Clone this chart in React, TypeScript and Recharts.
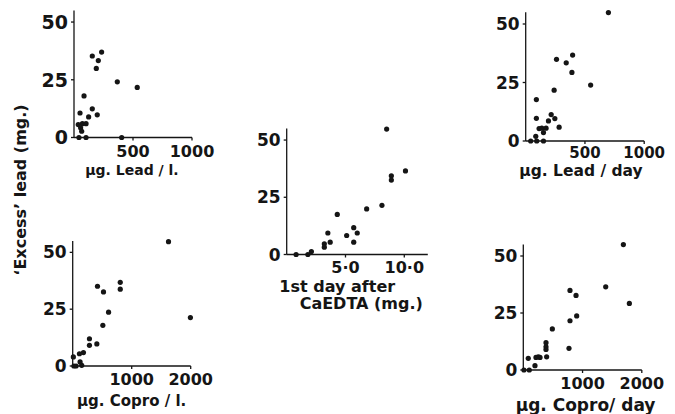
import { Scatter, ScatterChart, XAxis, YAxis } from "recharts";

const W = 675;
const H = 414;
const FONT = '"DejaVu Sans", sans-serif';
const INK = "#151515";

// shared y axis: 'Excess' lead (mg.)
const Y_DOMAIN = [0, 55];
const Y_TICKS = [0, 25, 50];

// µg. Lead / l.
const LEAD_L_X = [51, 85, 36, 71, 102, 56, 65, 155, 206, 234, 189, 367, 536, 155, 124, 197, 42, 102, 404];
const LEAD_L_Y = [10.6, 18, 5.6, 6, 6, 4.2, 2.7, 35.3, 33.3, 37, 29.9, 24.1, 21.7, 12.4, 8.9, 9.8, 0, 0, 0];

// 1st day after CaEDTA (mg.)
const EDTA_X = [0.8, 1.8, 2.1, 3.2, 3.2, 3.5, 3.7, 4.3, 5.1, 5.7, 5.7, 6.0, 6.8, 8.1, 8.5, 8.9, 8.9, 10.1];
const EDTA_Y = [0, 0, 1.3, 4.7, 3.2, 9.4, 5.4, 17.5, 8.3, 11.7, 5.4, 9.4, 19.9, 21.5, 54.8, 34.4, 32.5, 36.5];

// µg. Lead / day
const LEAD_D_X = [698, 260, 342, 396, 390, 548, 240, 90, 90, 215, 246, 192, 282, 113, 136, 172, 150, 85, 42, 93, 150];
const LEAD_D_Y = [54.9, 34.9, 33.4, 36.7, 29.3, 23.9, 21.7, 17.7, 9.7, 11.3, 9.6, 8.6, 5.9, 5.3, 5.5, 5.5, 3.6, 2, 0, 0, 0];

// µg. Copro / l.
const COPRO_L_X = [1624, 1995, 806, 806, 420, 522, 608, 511, 409, 284, 284, 182, 114, 125, 11, 20, 57, 153];
const COPRO_L_Y = [54.7, 21.3, 36.8, 33.8, 35.1, 32.6, 23.7, 17.9, 9.7, 12, 9.1, 5.9, 5.4, 1.8, 4, 0, 0, 0.3];

// µg. Copro / day
const COPRO_D_X = [1689, 1391, 1790, 788, 890, 901, 788, 771, 490, 383, 383, 383, 394, 282, 253, 214, 84, 197, 11, 101];
const COPRO_D_Y = [55, 36.5, 29.2, 34.9, 32.7, 23.7, 21.6, 9.5, 18, 12, 10.2, 9, 5.8, 5.5, 5.8, 5.5, 5.1, 1.9, 0, 0];

const LEAD_TICKS = [500, 1000];
const EDTA_TICKS = [5, 10];
const EDTA_TICK_LABELS = ["5·0", "10·0"];
const COPRO_TICKS = [1000, 2000];

const zip = (xs: number[], ys: number[]) => xs.map((x, i) => ({ x, y: ys[i] }));

type Box = { l: number; r: number; t: number; b: number };

interface PanelProps {
  data: { x: number; y: number }[];
  xDomain: number[];
  xTicks: number[];
  xFormat?: (v: number) => string;
  box: Box;
  title: string[];
  titleDx: number[];
  titleDy: number;
  lineGap?: number;
  titleSize: number;
  xTickSize: number;
  xTickMargin: number;
  yTickSize: number;
}

const Dot = (props: any) => <circle cx={props.cx} cy={props.cy} r={2.6} fill={INK} />;

function Panel(p: PanelProps) {
  const YW = 60;
  const XH = 40;
  const margin = {
    top: p.box.t,
    left: p.box.l - YW,
    right: W - p.box.r,
    bottom: H - p.box.b - XH,
  };
  const axisLine = { stroke: INK, strokeWidth: 1.3 };
  return (
    <div style={{ position: "absolute", left: 0, top: 0 }}>
      <ScatterChart width={W} height={H} margin={margin}>
        <XAxis
          type="number"
          dataKey="x"
          domain={p.xDomain}
          ticks={p.xTicks}
          tickFormatter={p.xFormat}
          height={XH}
          axisLine={axisLine}
          tickLine={axisLine}
          tickSize={3}
          tickMargin={p.xTickMargin}
          tick={{ fontSize: p.xTickSize, fontFamily: FONT, fontWeight: "bold", fill: INK }}
          label={{
            content: (lp: any) => {
              const vb = lp.viewBox;
              const cx = vb.x + vb.width / 2;
              return (
                <text
                  x={cx}
                  y={vb.y + p.titleDy}
                  textAnchor="middle"
                  fontFamily={FONT}
                  fontWeight="bold"
                  fontSize={p.titleSize}
                  fill={INK}
                >
                  {p.title.map((line, i) => (
                    <tspan key={i} x={cx + p.titleDx[i]} dy={i === 0 ? 0 : p.lineGap}>
                      {line}
                    </tspan>
                  ))}
                </text>
              );
            },
          }}
        />
        <YAxis
          type="number"
          dataKey="y"
          domain={Y_DOMAIN}
          ticks={Y_TICKS}
          width={YW}
          axisLine={axisLine}
          tickLine={axisLine}
          tickSize={3}
          tickMargin={3}
          tick={{ fontSize: p.yTickSize, fontFamily: FONT, fontWeight: "bold", fill: INK }}
        />
        <Scatter data={p.data} fill={INK} shape={Dot} isAnimationActive={false} />
      </ScatterChart>
    </div>
  );
}

export default function App() {
  return (
    <div style={{ position: "absolute", left: 0, top: 0, width: W, height: H, background: "#fff" }}>
      <Panel
        data={zip(LEAD_L_X, LEAD_L_Y)}
        xDomain={[0, 1000]}
        xTicks={LEAD_TICKS}
        box={{ l: 74, r: 192, t: 10.5, b: 137.5 }}
        title={["µg. Lead / l."]}
        titleDx={[-1]}
        titleDy={37}
        titleSize={14}
        xTickSize={16}
        xTickMargin={5}
        yTickSize={19}
      />
      <Panel
        data={zip(EDTA_X, EDTA_Y)}
        xDomain={[0, 12]}
        xTicks={EDTA_TICKS}
        xFormat={(v) => EDTA_TICK_LABELS[EDTA_TICKS.indexOf(v)]}
        box={{ l: 286.7, r: 427.8, t: 128.6, b: 254.5 }}
        title={["1st day after", "CaEDTA  (mg.)"]}
        titleDx={[-20, 4]}
        titleDy={37}
        lineGap={17}
        titleSize={16}
        xTickSize={16}
        xTickMargin={4}
        yTickSize={17}
      />
      <Panel
        data={zip(LEAD_D_X, LEAD_D_Y)}
        xDomain={[0, 1000]}
        xTicks={LEAD_TICKS}
        box={{ l: 525.7, r: 644.2, t: 12.3, b: 141 }}
        title={["µg. Lead / day"]}
        titleDx={[-4]}
        titleDy={35}
        titleSize={15.5}
        xTickSize={15}
        xTickMargin={3}
        yTickSize={17}
      />
      <Panel
        data={zip(COPRO_L_X, COPRO_L_Y)}
        xDomain={[0, 2000]}
        xTicks={COPRO_TICKS}
        box={{ l: 72.7, r: 190.7, t: 241, b: 366 }}
        title={["µg. Copro / l."]}
        titleDx={[0]}
        titleDy={40}
        titleSize={15}
        xTickSize={16}
        xTickMargin={5}
        yTickSize={17}
      />
      <Panel
        data={zip(COPRO_D_X, COPRO_D_Y)}
        xDomain={[0, 2000]}
        xTicks={COPRO_TICKS}
        box={{ l: 523.3, r: 641.8, t: 244.6, b: 370 }}
        title={["µg. Copro/ day"]}
        titleDx={[3]}
        titleDy={41}
        titleSize={17}
        xTickSize={16}
        xTickMargin={5}
        yTickSize={17}
      />
      <svg width={40} height={H} style={{ position: "absolute", left: 0, top: 0 }}>
        <text
          transform="translate(20 190) rotate(-90)"
          textAnchor="middle"
          dominantBaseline="central"
          fontFamily={FONT}
          fontWeight="bold"
          fontSize={16}
          fill={INK}
        >
          ‘Excess’ lead  (mg.)
        </text>
      </svg>
    </div>
  );
}
